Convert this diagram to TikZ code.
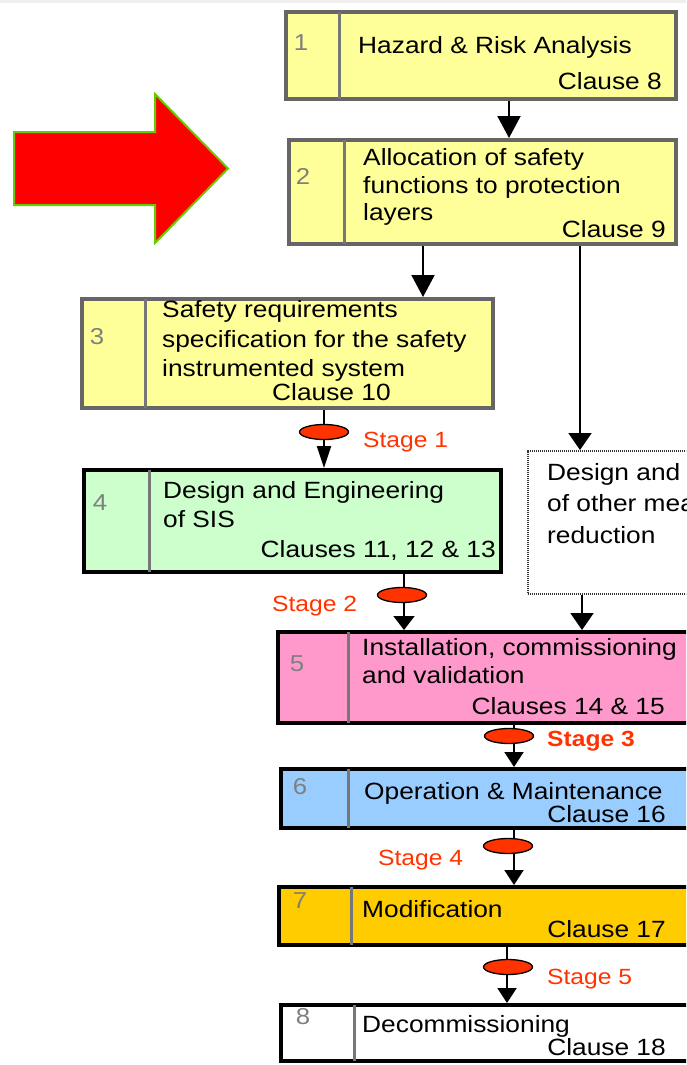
\documentclass[tikz,border=0pt]{standalone}
\usepackage{fontspec}
\setmainfont{Liberation Sans}[FakeStretch=1.12]
\usetikzlibrary{arrows.meta,shapes.geometric}
\definecolor{lyellow}{HTML}{FFFF99}
\definecolor{lgreen}{HTML}{CCFFCC}
\definecolor{lpink}{HTML}{FF99CC}
\definecolor{lblue}{HTML}{99CCFF}
\definecolor{lgold}{HTML}{FFCC00}
\definecolor{boxgray}{HTML}{666666}
\definecolor{divgray}{HTML}{777777}
\definecolor{numgray}{HTML}{7F7F7F}
\definecolor{stagered}{HTML}{FF3300}
\definecolor{bigred}{HTML}{FF0000}
\definecolor{arrowgreen}{HTML}{66CC00}
\definecolor{topgray}{HTML}{EFEFEF}
\begin{document}
\begin{tikzpicture}[x=1pt,y=-1pt,
  gbox/.style={draw=boxgray, line width=4pt, fill=lyellow, rectangle, anchor=north west, inner sep=0pt},
  kbox/.style={draw=black, line width=4pt, rectangle, anchor=north west, inner sep=0pt},
  dbox/.style={draw=black!80, line width=1.5pt, dash pattern=on 1.2pt off 0.8pt, rectangle, anchor=north west, inner sep=0pt, fill=white},
  divline/.style={draw=divgray, line width=3pt},
  arr/.style={draw=black, line width=2pt, -{Triangle[width=23pt,length=22pt]}},
  sarr/.style={draw=black, line width=2pt, -{Triangle[width=19pt,length=15pt]}},
  narr/.style={draw=black, line width=2pt, -{Triangle[width=14pt,length=22pt]}},
  stageell/.style={ellipse, draw=black, line width=1.3pt, fill=stagered, minimum width=49pt, minimum height=15pt, inner sep=0pt},
  t/.style={font=\fontsize{23.5}{28}\selectfont, inner sep=0pt, anchor=base west},
  tr/.style={t, anchor=base east},
  num/.style={font=\fontsize{23}{28}\selectfont, text=numgray, inner sep=0pt},
  stg/.style={font=\fontsize{22}{26}\selectfont, text=stagered, inner sep=0pt, anchor=base west}
]
\useasboundingbox (0,0) rectangle (686,1065);
\clip (0,0) rectangle (686,1065);
\fill[topgray] (0,0) rectangle (686,3);

% big arrow
\draw[fill=bigred, draw=arrowgreen, line width=2pt, line join=miter]
  (14,132) -- (155,132) -- (155,94) -- (228,168.5) -- (155,243) -- (155,205) -- (14,205) -- cycle;

% boxes
\node[gbox, minimum width=390pt, minimum height=87pt] (b1) at (284,10) {};
\node[gbox, minimum width=387pt, minimum height=104pt] (b2) at (287,138) {};
\node[gbox, minimum width=411pt, minimum height=109pt] (b3) at (80,297) {};
\node[kbox, fill=lgreen, minimum width=417pt, minimum height=102pt] (b4) at (82,468) {};
\node[dbox, minimum width=200pt, minimum height=143pt] (bd) at (527,450) {};
\node[kbox, fill=lpink, minimum width=430pt, minimum height=91pt] (b5) at (276,630) {};
\node[kbox, fill=lblue, minimum width=430pt, minimum height=59pt] (b6) at (279,767) {};
\node[kbox, fill=lgold, minimum width=430pt, minimum height=58pt] (b7) at (277,885) {};
\node[kbox, fill=white, minimum width=430pt, minimum height=56pt] (b8) at (279,1003) {};

% dividers
\coordinate (d1) at (339,0);
\coordinate (d2) at (344,0);
\coordinate (d3) at (145,0);
\coordinate (d4) at (149,0);
\coordinate (d5) at (348,0);
\coordinate (d6) at (348,0);
\coordinate (d7) at (351,0);
\coordinate (d8) at (354,0);
\draw[divline] ([yshift=-2pt]b1.north -| d1) -- ([yshift=2pt]b1.south -| d1);
\draw[divline] ([yshift=-2pt]b2.north -| d2) -- ([yshift=2pt]b2.south -| d2);
\draw[divline] ([yshift=-2pt]b3.north -| d3) -- ([yshift=2pt]b3.south -| d3);
\draw[divline] ([yshift=-2pt]b4.north -| d4) -- ([yshift=2pt]b4.south -| d4);
\draw[divline] ([yshift=-2pt]b5.north -| d5) -- ([yshift=2pt]b5.south -| d5);
\draw[divline] ([yshift=-2pt]b6.north -| d6) -- ([yshift=2pt]b6.south -| d6);
\draw[divline] ([yshift=-2pt]b7.north -| d7) -- ([yshift=2pt]b7.south -| d7);
\draw[divline] ([yshift=-2pt]b8.north -| d8) -- ([yshift=2pt]b8.south -| d8);

% connector x positions
\coordinate (c12) at (509,0);
\coordinate (c23) at (423,0);
\coordinate (c2d) at (580,0);
\coordinate (c34) at (324,0);
\coordinate (c45) at (404,0);
\coordinate (cd5) at (582,0);
\coordinate (c56) at (514,0);
\coordinate (c67) at (514,0);
\coordinate (c78) at (507,0);

\draw[arr] (b1.south -| c12) -- (b2.north -| c12);
\draw[arr] (b2.south -| c23) -- (b3.north -| c23);
\draw[sarr, -{Triangle[width=23pt,length=17pt]}] (b2.south -| c2d) -- (bd.north -| c2d);
\draw[narr] (b3.south -| c34) -- (b4.north -| c34);
\draw[sarr, -{Triangle[width=21pt,length=14pt]}] (b4.south -| c45) -- (b5.north -| c45);
\draw[sarr, -{Triangle[width=23pt,length=17pt]}] (bd.south -| cd5) -- (b5.north -| cd5);
\draw[sarr] (b5.south -| c56) -- (b6.north -| c56);
\draw[sarr] (b6.south -| c67) -- (b7.north -| c67);
\draw[sarr] (b7.south -| c78) -- (b8.north -| c78);

% stage ellipses
\node[stageell] (e1) at (324,432) {};
\node[stageell] (e2) at (402,595) {};
\node[stageell] (e3) at (509,736) {};
\node[stageell] (e4) at (508,846) {};
\node[stageell] (e5) at (508,967) {};

% stage labels
\node[stg] (s1) at (363,447) {Stage 1};
\node[stg] (s2) at (272,611) {Stage 2};
\node[stg, font=\fontsize{22}{26}\selectfont\bfseries] (s3) at (547,746) {Stage 3};
\node[stg] (s4) at (378,865) {Stage 4};
\node[stg] (s5) at (547,984) {Stage 5};

% numbers
\node[num] (n1) at (301,43) {1};
\node[num] (n2) at (303,176) {2};
\node[num] (n3) at (97,337) {3};
\node[num] (n4) at (100,503) {4};
\node[num] (n5) at (297,664) {5};
\node[num] (n6) at (300,787) {6};
\node[num] (n7) at (300,901) {7};
\node[num] (n8) at (303,1017) {8};

% texts
\node[t] (t1a) at (358,53) {Hazard \& Risk Analysis};
\node[tr] (t1c) at (662,89) {Clause 8};

\node[t] (t2a) at (363,165) {Allocation of safety};
\node[t] (t2b) at (363,193) {functions to protection};
\node[t] (t2c) at (363,220) {layers};
\node[tr] (t2d) at (666,237) {Clause 9};

\node[t] (t3a) at (162,317) {Safety requirements};
\node[t] (t3b) at (162,347) {specification for the safety};
\node[t] (t3c) at (162,376) {instrumented system};
\node[t] (t3d) at (272,400) {Clause 10};

\node[t] (t4a) at (163,498) {Design and Engineering};
\node[t] (t4b) at (163,527) {of SIS};
\node[tr] (t4c) at (496,557) {Clauses 11, 12 \& 13};

\node[t] (tda) at (547,480) {Design and};
\node[t] (tdb) at (547,511) {of other mea};
\node[t] (tdc) at (547,543) {reduction};

\node[t] (t5a) at (362,655) {Installation, commissioning};
\node[t] (t5b) at (362,683) {and validation};
\node[tr] (t5c) at (665,714) {Clauses 14 \& 15};

\node[t] (t6a) at (364,799) {Operation \& Maintenance};
\node[tr] (t6b) at (666,822) {Clause 16};

\node[t] (t7a) at (362,917) {Modification};
\node[tr] (t7b) at (666,937) {Clause 17};

\node[t] (t8a) at (362,1032) {Decommissioning};
\node[tr] (t8b) at (666,1055) {Clause 18};
\end{tikzpicture}
\end{document}
